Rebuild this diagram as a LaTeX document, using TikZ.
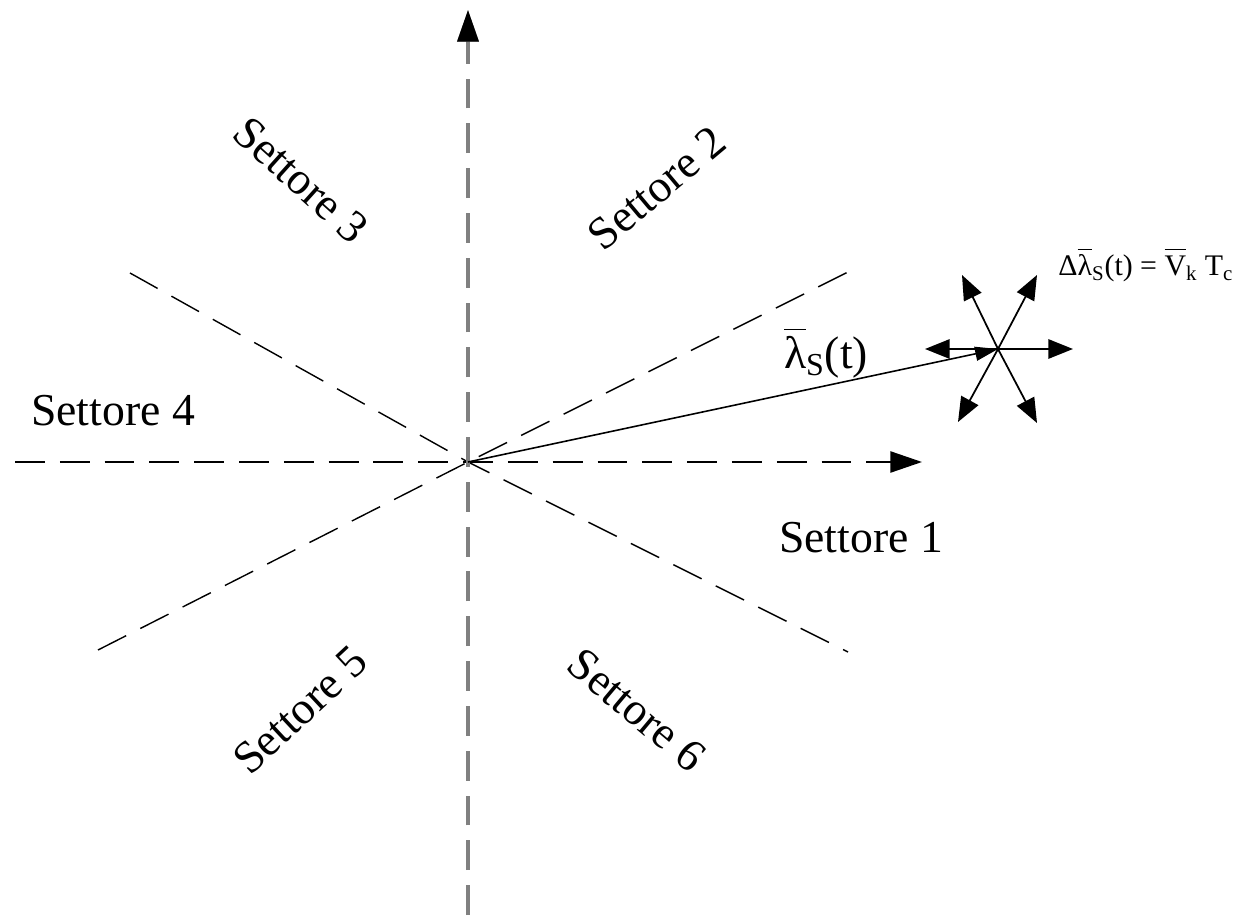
\documentclass[tikz,border=0pt]{standalone}
\usepackage{fontspec}
\setmainfont{Liberation Serif}
\usetikzlibrary{arrows.meta}
\newcommand{\vbar}[1]{$\overline{\mbox{\rule{0pt}{0.82em}#1}}$}
\tikzset{
  settore/.style={font=\fontsize{26}{30}\selectfont, inner sep=0pt},
  asse/.style={dash pattern=on 17pt off 8.5pt, -{Triangle[length=18pt,width=12pt]}},
  confine/.style={dash pattern=on 18pt off 9pt, line width=0.8pt},
  stella/.style={line width=1pt, -{Triangle[length=14pt,width=11pt]}}
}
\begin{document}
\begin{tikzpicture}[x=0.2mm,y=-0.2mm]
\useasboundingbox (0,0) rectangle (1248,918);
\def\xO{468};
\def\yO{462};
\coordinate (O) at (\xO,\yO);
\coordinate (XA) at (15,\yO);
\coordinate (XB) at (922,\yO);
\coordinate (YA) at (\xO,915);
\coordinate (YB) at (\xO,10);
\coordinate (D3) at (130,273);
\coordinate (D6) at (848,652);
\coordinate (D5) at (98,650);
\coordinate (D2) at (848,272);
\draw[confine] (D3) -- (O) -- (D6);
\draw[confine] (D5) -- (O) -- (D2);
\draw[asse, line width=1.2pt] (XA) -- (XB);
\draw[asse, line width=2.2pt, gray] (YA) -- (YB);
\draw[asse, line width=1.7pt, black, dash pattern=on 0pt off 100pt] (YA) -- (YB);
\def\xC{998};
\def\yC{349};
\coordinate (C) at (\xC,\yC);
\draw[line width=0.9pt, -{Triangle[length=13pt,width=8pt]}] (O) -- (C);
\foreach \nome/\pos in {L/{925,349},R/{1073,349},UL/{962,275},UR/{1037,275},DL/{958,422},DR/{1037,423}}{
  \coordinate (\nome) at (\pos);
  \draw[stella] (C) -- (\nome);
}
\node[settore, anchor=base] (s1) at (861,553) {Settore 1};
\node[settore, rotate=40] (s2) at (657,188) {Settore 2};
\node[settore, rotate=-42] (s3) at (301,180) {Settore 3};
\node[settore, anchor=base] (s4) at (113,426) {Settore 4};
\node[settore, rotate=43] (s5) at (300,710) {Settore 5};
\node[settore, rotate=-40] (s6) at (637,710) {Settore 6};
\node[settore, anchor=base] (lam) at (826,369) {\vbar{λ}\textsubscript{S}(t)};
\node[font=\fontsize{17}{20}\selectfont, inner sep=0pt, anchor=base west] (dlam) at (1058,276) {Δ\vbar{λ}\textsubscript{S}(t) = \vbar{V}\textsubscript{k} T\textsubscript{c}};
\end{tikzpicture}
\end{document}
